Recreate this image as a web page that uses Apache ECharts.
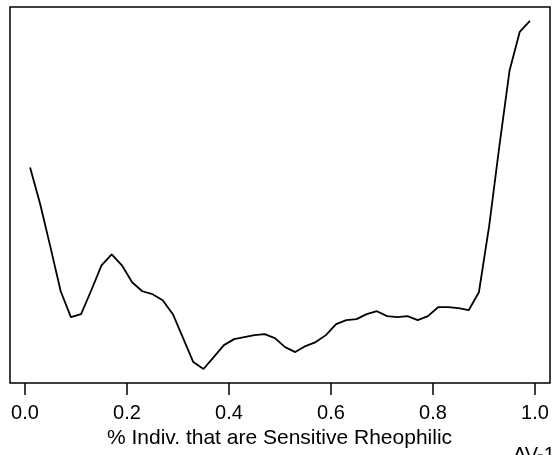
<!DOCTYPE html>
<html>
<head>
<meta charset="utf-8">
<script src="https://cdn.jsdelivr.net/npm/echarts@6/dist/echarts.min.js"></script>
<style>
html,body{margin:0;padding:0;background:#fff;}
#c{width:559px;height:455px;}
</style>
</head>
<body>
<div id="c"></div>
<script>
// Proportion of individuals that are sensitive rheophilic (x)
const xValues = [0.01,0.03,0.05,0.07,0.09,0.11,0.13,0.15,0.17,0.19,
                 0.21,0.23,0.25,0.27,0.29,0.31,0.33,0.35,0.37,0.39,
                 0.41,0.43,0.45,0.47,0.49,0.51,0.53,0.55,0.57,0.59,
                 0.61,0.63,0.65,0.67,0.69,0.71,0.73,0.75,0.77,0.79,
                 0.81,0.83,0.85,0.87,0.89,0.91,0.93,0.95,0.97,0.99];
// Response (y, unlabeled in the original)
const yValues = [2.16,1.79,1.36,0.92,0.66,0.69,0.93,1.18,1.29,1.18,
                 1.01,0.92,0.89,0.83,0.69,0.45,0.21,0.14,0.26,0.38,
                 0.44,0.46,0.48,0.49,0.45,0.36,0.31,0.37,0.41,0.48,
                 0.59,0.63,0.64,0.69,0.72,0.67,0.66,0.67,0.63,0.67,
                 0.76,0.76,0.75,0.73,0.91,1.57,2.37,3.13,3.52,3.63];
const xTicks = [0, 0.2, 0.4, 0.6, 0.8, 1.0];
const xTitle = '% Indiv. that are Sensitive Rheophilic';
const cornerLabel = 'AV-1';

const chart = echarts.init(document.getElementById('c'), null, {renderer: 'canvas'});
const FONT = '"Liberation Sans", Arial, sans-serif';
chart.setOption({
  animation: false,
  backgroundColor: '#fff',
  grid: {left: 10, right: 9, top: 7, bottom: 72, show: true,
         borderColor: '#000', borderWidth: 1.5, backgroundColor: 'transparent'},
  xAxis: {
    type: 'value', min: -0.0294, max: 1.0294,
    splitLine: {show: false},
    axisLine: {show: false},
    axisTick: {show: true, length: 12, customValues: xTicks,
               lineStyle: {color: '#000', width: 1.5}},
    axisLabel: {customValues: xTicks, margin: 20, fontSize: 20, color: '#000',
                fontFamily: FONT, formatter: v => v.toFixed(1)}
  },
  yAxis: {type: 'value', min: 0, max: 3.77, show: false},
  series: [{
    type: 'line',
    data: xValues.map((x, i) => [x, yValues[i]]),
    showSymbol: false,
    lineStyle: {color: '#000', width: 1.8},
    z: 5
  }],
  graphic: [
    {type: 'text', left: 'center', top: 428,
     style: {text: xTitle, fontSize: 21, fill: '#000', fontFamily: FONT}},
    {type: 'text', left: 513, top: 445,
     style: {text: cornerLabel, fontSize: 20, fill: '#000', fontFamily: FONT}}
  ]
});
</script>
</body>
</html>
